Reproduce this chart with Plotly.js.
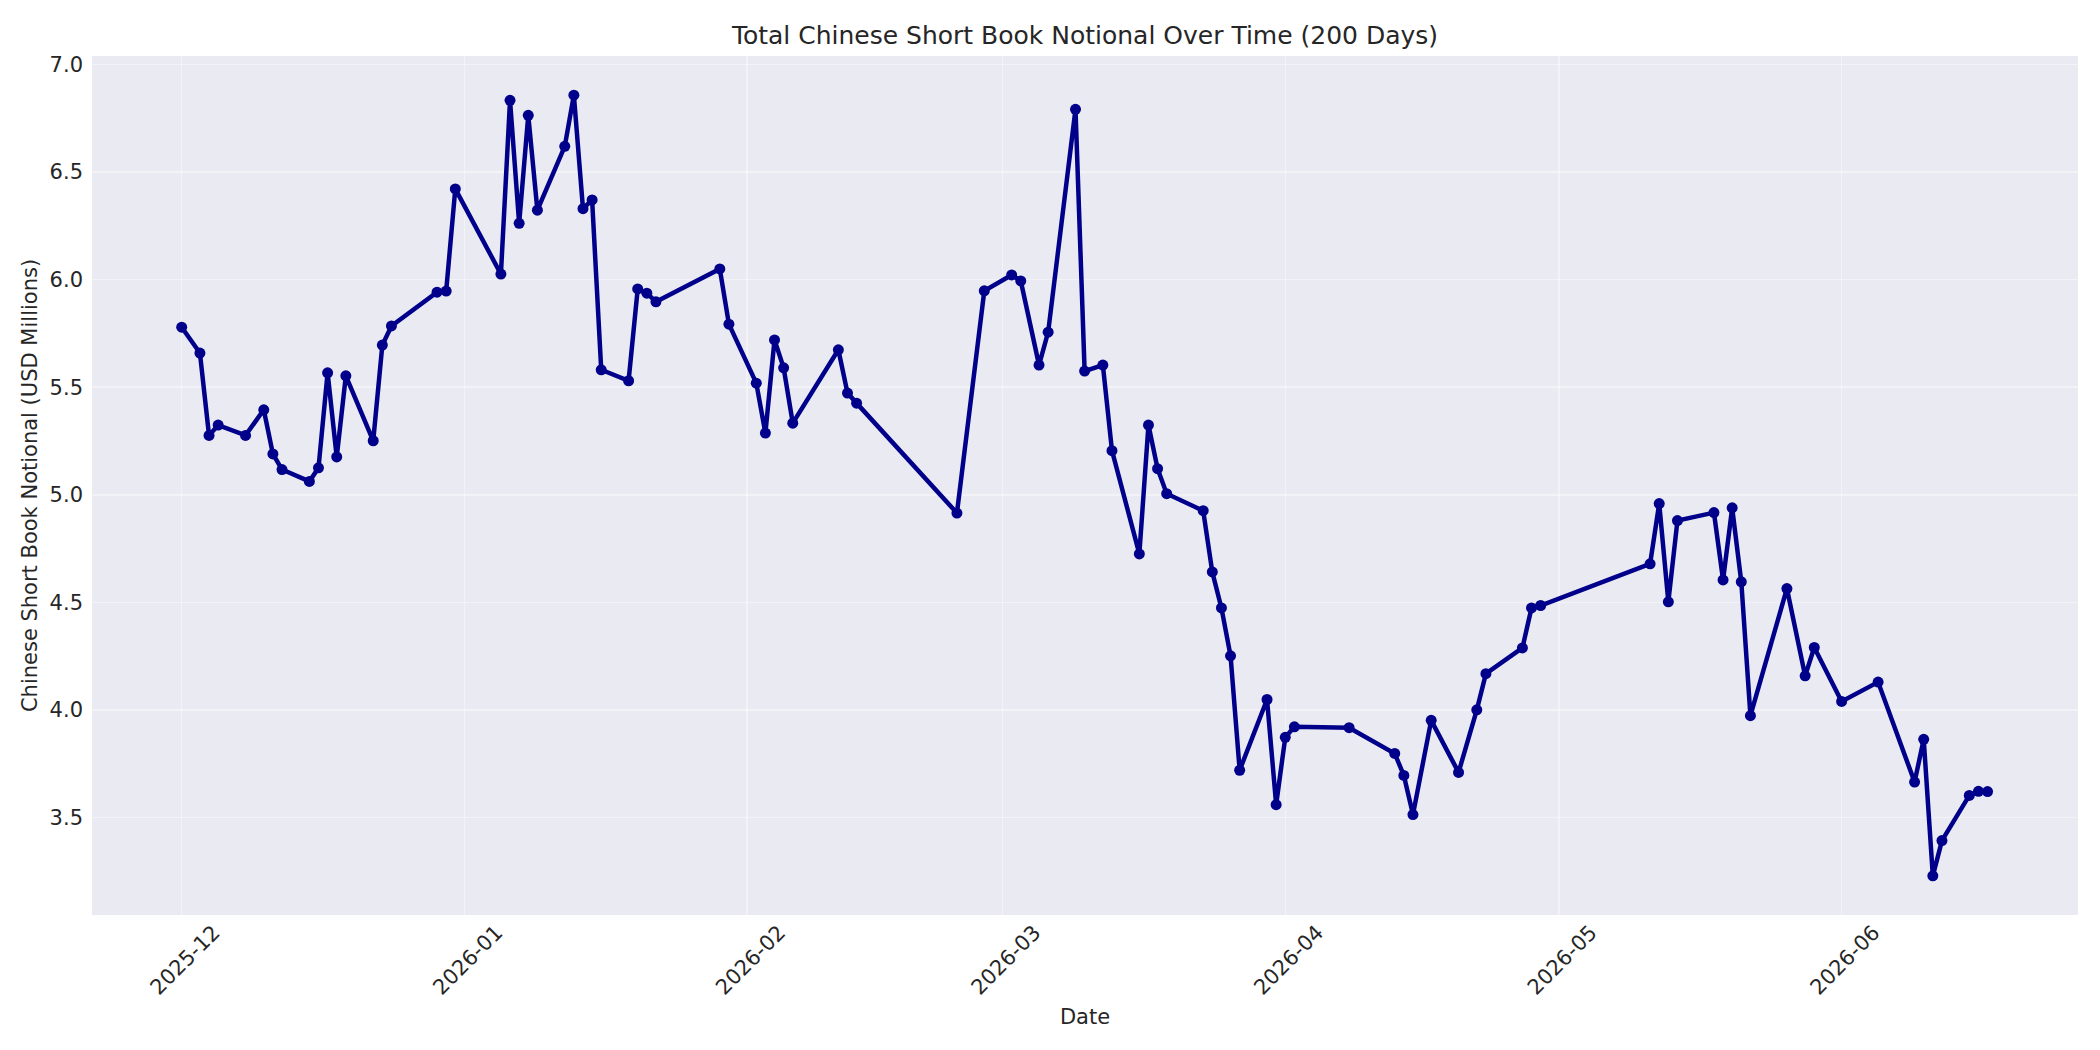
<!DOCTYPE html>
<html>
<head>
<meta charset="utf-8">
<script src="https://cdn.plot.ly/plotly-3.0.1.min.js"></script>
<style>
    html, body { margin: 0; padding: 0; background: #ffffff; }
    #chart { width: 2100px; height: 1050px; }
</style>
</head>
<body>
<div id="chart"></div>
<script>
// trading days
let dates = [
    '2025-12-01', '2025-12-03', '2025-12-04', '2025-12-05', '2025-12-08', '2025-12-10', '2025-12-11',
    '2025-12-12', '2025-12-15', '2025-12-16', '2025-12-17', '2025-12-18', '2025-12-19', '2025-12-22',
    '2025-12-23', '2025-12-24', '2025-12-29', '2025-12-30', '2025-12-31',
    '2026-01-05', '2026-01-06', '2026-01-07', '2026-01-08', '2026-01-09', '2026-01-12', '2026-01-13',
    '2026-01-14', '2026-01-15', '2026-01-16', '2026-01-19', '2026-01-20', '2026-01-21', '2026-01-22',
    '2026-01-29', '2026-01-30',
    '2026-02-02', '2026-02-03', '2026-02-04', '2026-02-05', '2026-02-06', '2026-02-11', '2026-02-12',
    '2026-02-13', '2026-02-24', '2026-02-27',
    '2026-03-02', '2026-03-03', '2026-03-05', '2026-03-06', '2026-03-09', '2026-03-10', '2026-03-12',
    '2026-03-13', '2026-03-16', '2026-03-17', '2026-03-18', '2026-03-19', '2026-03-23', '2026-03-24',
    '2026-03-25', '2026-03-26', '2026-03-27', '2026-03-30', '2026-03-31',
    '2026-04-01', '2026-04-02', '2026-04-08', '2026-04-13', '2026-04-14', '2026-04-15', '2026-04-17',
    '2026-04-20', '2026-04-22', '2026-04-23', '2026-04-27', '2026-04-28', '2026-04-29',
    '2026-05-11', '2026-05-12', '2026-05-13', '2026-05-14', '2026-05-18', '2026-05-19', '2026-05-20',
    '2026-05-21', '2026-05-22', '2026-05-26', '2026-05-28', '2026-05-29',
    '2026-06-01', '2026-06-05', '2026-06-09', '2026-06-10', '2026-06-11', '2026-06-12', '2026-06-15',
    '2026-06-16', '2026-06-17'
];

// USD millions
let notional = [
    5.779, 5.659, 5.276, 5.324, 5.276, 5.395, 5.190,
    5.117, 5.062, 5.125, 5.567, 5.176, 5.553, 5.251,
    5.696, 5.785, 5.942, 5.947, 6.422,
    6.026, 6.834, 6.262, 6.764, 6.323, 6.620, 6.858,
    6.330, 6.371, 5.581, 5.530, 5.957, 5.937, 5.897,
    6.050, 5.793,
    5.519, 5.287, 5.720, 5.590, 5.333, 5.674, 5.473,
    5.426, 4.915, 5.948,
    6.022, 5.994, 5.603, 5.756, 6.792, 5.575, 5.603,
    5.205, 4.725, 5.324, 5.121, 5.005, 4.926, 4.641,
    4.474, 4.251, 3.719, 4.048, 3.559,
    3.872, 3.921, 3.917, 3.797, 3.695, 3.513, 3.951,
    3.709, 4.000, 4.168, 4.288, 4.474, 4.485,
    4.679, 4.959, 4.502, 4.880, 4.917, 4.604, 4.939,
    4.595, 3.973, 4.564, 4.158, 4.290,
    4.039, 4.129, 3.664, 3.863, 3.228, 3.392, 3.602,
    3.621, 3.620
];

let tickDates = ['2025-12-01', '2026-01-01', '2026-02-01', '2026-03-01', '2026-04-01', '2026-05-01', '2026-06-01'];
let tickLabels = ['2025-12', '2026-01', '2026-02', '2026-03', '2026-04', '2026-05', '2026-06'];
let yTicks = [3.5, 4.0, 4.5, 5.0, 5.5, 6.0, 6.5, 7.0];

let textColor = '#262626';
let gridColor = 'rgba(255,255,255,0.4)';

let data = [{
    x: dates,
    y: notional,
    type: 'scatter',
    mode: 'lines+markers',
    line: {
        color: '#00008B',
        width: 4.5
    },
    marker: {
        color: '#00008B',
        size: 11
    },
    hoverinfo: 'x+y'
}];

let layout = {
    width: 2100,
    height: 1050,
    showlegend: false,
    paper_bgcolor: '#ffffff',
    plot_bgcolor: '#EAEAF2',
    font: {
        family: 'DejaVu Sans',
        size: 21,
        color: textColor
    },
    margin: {
        l: 92,
        r: 22,
        t: 56,
        b: 135
    },
    title: {
        text: 'Total Chinese Short Book Notional Over Time (200 Days)',
        font: {
            size: 25,
            color: textColor
        },
        x: 0.5,
        xref: 'paper',
        xanchor: 'center',
        y: 1,
        yref: 'container',
        yanchor: 'top',
        pad: { t: 26 }
    },
    xaxis: {
        type: 'date',
        range: ['2025-11-21 04:00', '2026-06-26 22:00'],
        tickmode: 'array',
        tickvals: tickDates,
        ticktext: tickLabels,
        tickangle: -45,
        ticklabelshift: 32,
        ticks: '',
        showgrid: true,
        gridcolor: gridColor,
        gridwidth: 1.5,
        zeroline: false,
        showline: false,
        tickfont: { size: 21, color: textColor },
        title: {
            text: 'Date',
            font: { size: 21, color: textColor },
            standoff: 10
        }
    },
    yaxis: {
        range: [3.046, 7.04],
        tickmode: 'array',
        tickvals: yTicks,
        ticktext: yTicks.map(function (v) { return v.toFixed(1); }),
        ticks: '',
        ticklabelstandoff: 8,
        showgrid: true,
        gridcolor: gridColor,
        gridwidth: 1.5,
        zeroline: false,
        showline: false,
        tickfont: { size: 21, color: textColor },
        title: {
            text: 'Chinese Short Book Notional (USD Millions)',
            font: { size: 21, color: textColor },
            standoff: 6
        }
    }
};

Plotly.newPlot('chart', data, layout, { displayModeBar: false, staticPlot: true });
</script>
</body>
</html>
